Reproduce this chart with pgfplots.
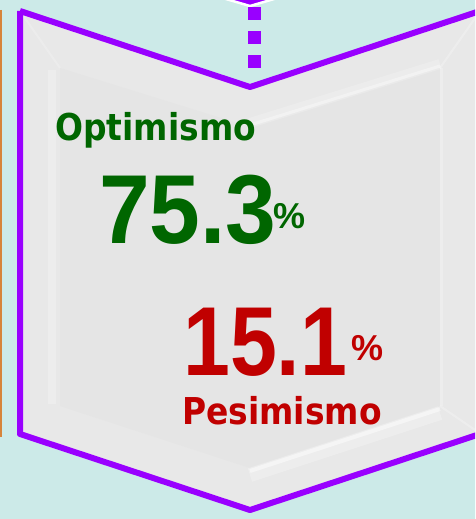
\documentclass[border=0pt]{standalone}
\usepackage{pgfplots}
\pgfplotsset{compat=1.18}
\usepackage{fontspec}
\setmainfont{DejaVu Sans}
\newfontfamily\numfont{Liberation Sans}
\definecolor{bgc}{RGB}{204,234,232}
\definecolor{boxc}{RGB}{229,229,229}
\definecolor{bandc}{RGB}{232,232,232}
\definecolor{purp}{RGB}{153,0,255}
\definecolor{orng}{RGB}{214,132,58}
\definecolor{grn}{RGB}{0,102,0}
\definecolor{rd}{RGB}{192,0,0}
\begin{document}
\begin{tikzpicture}
\begin{axis}[
  scale only axis, width=475pt, height=519pt,
  xmin=0, xmax=475, ymin=0, ymax=519, y dir=reverse,
  hide axis, clip=true,
]
% background
\addplot[draw=none, fill=bgc] coordinates {(0,0)(475,0)(475,519)(0,519)} \closedcycle;
% orange edge
\addplot[draw=orng, line width=2.5pt] coordinates {(1,10)(1,437)};
% chevron fill (bevel band)
\addplot[draw=none, fill=bandc] coordinates {(20,11)(250,87)(480,11)(480,434)(250,510)(20,434)(20,11)};
% inner face
\addplot[draw=none, fill=boxc] coordinates {(60,68)(250,127)(440,68)(440,406)(250,468)(60,406)(60,68)};
% soft bevel highlights
\addplot[draw=white, opacity=0.2, line width=10pt] coordinates {(250,123)(440,64)};
\addplot[draw=white, opacity=0.35, line width=3pt] coordinates {(250,125)(440,66)};
\addplot[draw=white, opacity=0.25, line width=14pt] coordinates {(250,475)(440,413)};
\addplot[draw=white, opacity=0.45, line width=4pt] coordinates {(250,471)(440,409)};
\addplot[draw=white, opacity=0.25, line width=3pt] coordinates {(441,68)(441,406)};
\addplot[draw=white, opacity=0.22, line width=8pt] coordinates {(52,70)(52,404)};
\addplot[draw=white, opacity=0.25, line width=2pt] coordinates {(440,68)(478,14)};
\addplot[draw=white, opacity=0.25, line width=2pt] coordinates {(440,406)(478,432)};
\addplot[draw=white, opacity=0.2, line width=2pt] coordinates {(60,68)(22,14)};
% chevron outline
\addplot[draw=purp, line width=6pt, line join=round] coordinates {(20,11)(250,87)(480,11)(480,434)(250,510)(20,434)(20,11)};
% upper chevron tip
\addplot[draw=white, fill=purp, line width=2.5pt, line join=round] coordinates {(195,-10)(250,6)(305,-10)};
% dotted connector
\addplot[only marks, mark=square*, mark size=6pt, color=purp] coordinates {(254,13)(254,37)(254,61)};
% texts
\node[anchor=base west, inner sep=0pt, text=grn] at (axis cs:55,140)
  {\scalebox{0.89}[1]{\fontsize{37}{40}\selectfont\bfseries Optimismo}};
\node[anchor=base west, inner sep=0pt, text=grn] at (axis cs:99,243)
  {\numfont\bfseries\scalebox{0.93}[1]{\fontsize{98}{100}\selectfont 75.3}\hspace{-3pt}\raisebox{15pt}{\fontsize{36}{40}\selectfont\%}};
\node[anchor=base west, inner sep=0pt, text=rd] at (axis cs:183,375)
  {\numfont\bfseries\scalebox{0.86}[1]{\fontsize{98}{100}\selectfont 15.1}\hspace{4pt}\raisebox{15pt}{\fontsize{36}{40}\selectfont\%}};
\node[anchor=base west, inner sep=0pt, text=rd] at (axis cs:182,424)
  {\scalebox{0.89}[1]{\fontsize{37}{40}\selectfont\bfseries Pesimismo}};
\end{axis}
\pgfresetboundingbox
\useasboundingbox (current axis.south west) rectangle (current axis.north east);
\end{tikzpicture}
\end{document}
